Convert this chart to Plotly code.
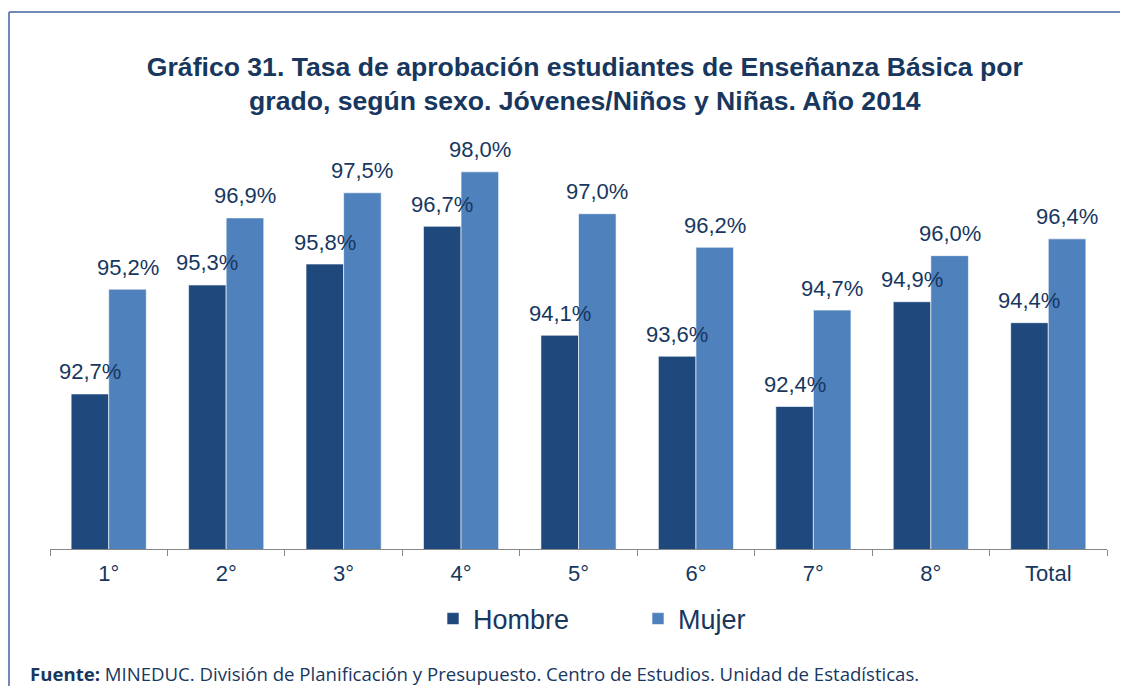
import plotly.graph_objects as go

_NAVY  = "#1F497D"
_BLUE  = "#4F81BD"
_TEXT  = "#17375E"
_AXIS  = "#868686"
_FRAME = "#7089B8"

grados = ["1°", "2°", "3°", "4°", "5°", "6°", "7°", "8°", "Total"]
hombre = [92.7, 95.3, 95.8, 96.7, 94.1, 93.6, 92.4, 94.9, 94.4]
mujer  = [95.2, 96.9, 97.5, 98.0, 97.0, 96.2, 94.7, 96.0, 96.4]

GAP = 0.36
PLOT_W = 1057


def fmt(v):
    return f"{v:.1f}%".replace(".", ",")


fig = go.Figure()
fig.add_bar(x=grados, y=hombre, name="Hombre",
            marker=dict(color=_NAVY, line=dict(color="rgba(255,255,255,0.6)", width=1)))
fig.add_bar(x=grados, y=mujer, name="Mujer",
            marker=dict(color=_BLUE, line=dict(color="rgba(255,255,255,0.6)", width=1)))

# value labels on top of everything (the reference lets them overlap the next bar)
half = PLOT_W / len(grados) * (1 - GAP) / 4
labels = []
for vals, shift in [(hombre, -half), (mujer, half)]:
    for g, v in zip(grados, vals):
        labels.append(dict(
            x=g, y=v, xref="x", yref="y", text=fmt(v), showarrow=False,
            xshift=shift, yshift=22, yanchor="middle",
            font=dict(size=22, color=_TEXT),
        ))

labels.append(dict(
    text="<b>Fuente:</b> MINEDUC. División de Planificación y Presupuesto. "
         "Centro de Estudios. Unidad de Estadísticas.",
    xref="paper", yref="paper", x=-0.0208, y=-0.269,
    xanchor="left", yanchor="middle", showarrow=False,
    font=dict(family="Open Sans, Noto Sans, sans-serif", size=18.6, color=_TEXT),
))

# page body adds an 8px margin, so the figure is 8px smaller each way
fig.update_layout(
    width=1120, height=678,
    paper_bgcolor="white", plot_bgcolor="white",
    font=dict(family="Liberation Sans, Arial, sans-serif", color=_TEXT),
    barmode="group", bargap=GAP, bargroupgap=0,
    margin=dict(t=80, b=137, l=42, r=21),
    title=dict(
        text="<b>Gráfico 31. Tasa de aprobación estudiantes de Enseñanza Básica por<br>"
             "grado, según sexo. Jóvenes/Niños y Niñas. Año 2014</b>",
        x=0.515, xanchor="center", y=0.9, yanchor="middle",
        font=dict(size=26.6, color=_TEXT),
    ),
    xaxis=dict(
        showline=True, linecolor=_AXIS, linewidth=1,
        ticks="outside", tickson="boundaries", ticklen=6, tickcolor=_AXIS,
        ticklabelstandoff=5,
        tickfont=dict(size=22, color=_TEXT), showgrid=False,
    ),
    yaxis=dict(range=[89, 100], visible=False, showgrid=False),
    legend=dict(
        orientation="h", x=(425 - 42) / 1057, xanchor="left", y=-0.152, yanchor="middle",
        font=dict(size=27, color=_TEXT), entrywidth=160,
    ),
    showlegend=True,
    shapes=[
        dict(type="line", xref="paper", yref="paper",
             x0=-0.0388, x1=1.05, y0=1.165, y1=1.165,
             line=dict(color=_FRAME, width=2)),
        dict(type="line", xref="paper", yref="paper",
             x0=-0.0388, x1=-0.0388, y0=1.165, y1=-0.35,
             line=dict(color=_FRAME, width=2)),
    ],
    annotations=labels,
)

fig.write_html("out.html")
